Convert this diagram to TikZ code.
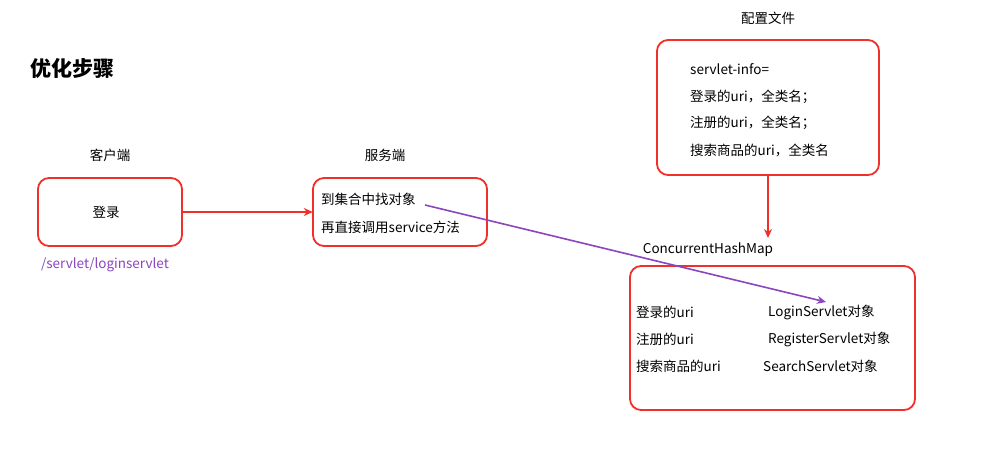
\documentclass[tikz,border=0pt]{standalone}
\usepackage{fontspec}
\setmainfont{Noto Sans CJK SC}
\usetikzlibrary{arrows.meta}
\definecolor{boxred}{HTML}{F0302A}
\definecolor{purp}{HTML}{8A45C0}
\begin{document}
\begin{tikzpicture}[x=1pt,y=-1pt,
  box/.style={draw=boxred,line width=1.8pt,rounded corners=11pt},
  txt/.style={font=\fontsize{13.5}{15}\selectfont,inner sep=0pt},
  lbl/.style={txt,anchor=west},
  redarrow/.style={draw=boxred,line width=1.6pt,-{Stealth[length=9pt,width=8pt]}},
  purparrow/.style={draw=purp,line width=1.6pt,-{Stealth[length=9pt,width=8pt]}}]
\useasboundingbox[fill=white] (0,0) rectangle (998,450);
\node[txt,font=\fontsize{21}{23}\selectfont\bfseries,anchor=west] (title) at (30,68) {优化步骤};
\node[txt] (clab) at (110,155) {客户端};
\draw[box] (38,178) rectangle (182,246);
\node (client) [minimum width=144pt,minimum height=68pt] at (110,212) {};
\node[txt] (login) at (106,212) {登录};
\node[txt,text=purp] (url) at (105,265) {/servlet/loginservlet};
\node[txt] (slab) at (385,155) {服务端};
\draw[box] (313,178) rectangle (487,246);
\node (server) [minimum width=174pt,minimum height=68pt] at (400,212) {};
\node[lbl] (s1) at (321,199) {到集合中找对象};
\node[lbl] (s2) at (321,227) {再直接调用service方法};
\draw[redarrow] (client.east) -- (server.west);
\node[txt] (cfglab) at (768,18) {配置文件};
\draw[box] (657,40) rectangle (879,175);
\node (cfg) [minimum width=222pt,minimum height=135pt] at (768,107.5) {};
\node[lbl] (c1) at (690,69) {servlet-info=};
\node[lbl] (c2) at (690,97) {登录的uri，全类名；};
\node[lbl] (c3) at (690,123) {注册的uri，全类名；};
\node[lbl] (c4) at (690,150) {搜索商品的uri，全类名};
\node[txt] (maplab) at (708,250) {ConcurrentHashMap};
\coordinate (mapTop) at (768,238);
\draw[redarrow] (cfg.south) -- (mapTop);
\draw[box] (630,266) rectangle (915,410);
\node[lbl] (m1) at (636,312) {登录的uri};
\node[lbl] (m2) at (636,339) {注册的uri};
\node[lbl] (m3) at (636,366) {搜索商品的uri};
\node[lbl] (r1) at (768,312) {LoginServlet对象};
\node[lbl] (r2) at (768,339) {RegisterServlet对象};
\node[lbl] (r3) at (763,366) {SearchServlet对象};
\coordinate (pstart) at (425,205);
\coordinate (pend) at (826,302);
\draw[purparrow] (pstart) -- (pend);
\end{tikzpicture}
\end{document}
